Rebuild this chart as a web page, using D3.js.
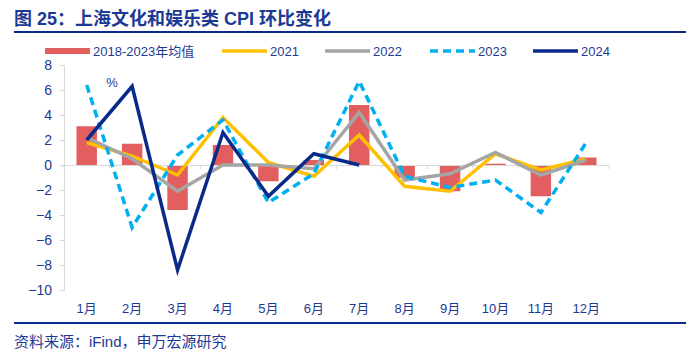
<!DOCTYPE html>
<html lang="zh">
<head>
<meta charset="UTF-8">
<title>上海文化和娱乐类 CPI 环比变化</title>
<script src="https://d3js.org/d3.v7.min.js"></script>
<style>
  body { margin: 0; background: #fff; }
  text { font-family: "Liberation Sans", Arial, "Noto Sans CJK SC", sans-serif; }
</style>
</head>
<body>
<svg id="chart"></svg>
<script>
const months = ["1月","2月","3月","4月","5月","6月","7月","8月","9月","10月","11月","12月"];
const avg1823 = [3.1, 1.7, -3.6, 1.6, -1.3, 0.4, 4.8, -1.0, -2.1, 0.1, -2.5, 0.6];
const s2021 = [1.8, 0.7, -0.8, 3.8, 0.2, -0.9, 2.4, -1.7, -2.1, 0.9, -0.4, 0.5];
const s2022 = [2.2, 0.5, -2.1, 0.0, 0.0, -0.3, 4.2, -1.2, -0.7, 1.0, -0.8, 0.4];
const s2023 = [6.4, -5.0, 0.8, 3.6, -3.0, -0.7, 6.7, -0.9, -1.8, -1.2, -3.8, 1.8];
const s2024 = [2.0, 6.3, -8.4, 2.6, -2.5, 0.9, 0.0];
const yTicks = [8, 6, 4, 2, 0, -2, -4, -6, -8, -10];

const W = 700, H = 352;
const navy = "#1c3a94";
const svg = d3.select("#chart").attr("width", W).attr("height", H);

// title
svg.append("text").attr("x", 14).attr("y", 25)
  .attr("font-family", "'Noto Sans CJK SC', sans-serif")
  .attr("font-size", 18).attr("font-weight", "bold").attr("fill", navy)
  .text("图 25：上海文化和娱乐类 CPI 环比变化");
svg.append("line").attr("x1", 14).attr("x2", 686).attr("y1", 32).attr("y2", 32)
  .attr("stroke", "#0a2a8a").attr("stroke-width", 2);

// footer
svg.append("line").attr("x1", 14).attr("x2", 686).attr("y1", 323).attr("y2", 323)
  .attr("stroke", "#0a2a8a").attr("stroke-width", 2);
svg.append("text").attr("x", 14).attr("y", 347)
  .attr("font-family", "'Noto Sans CJK SC', sans-serif")
  .attr("font-size", 15).attr("fill", navy)
  .text("资料来源：iFind，申万宏源研究");

const x = d3.scaleBand().domain(months).range([64, 609]);
const y = d3.scaleLinear().domain([-10, 8]).range([290, 65]);

// y axis
const yAxis = svg.append("g").attr("transform", "translate(64,0)")
  .call(d3.axisLeft(y).tickValues(yTicks).tickSize(4).tickPadding(8));
yAxis.select(".domain").attr("stroke", "#d9d9d9");
yAxis.selectAll(".tick line").attr("stroke", "#d9d9d9");
yAxis.selectAll(".tick text").attr("fill", navy).attr("font-size", 14);

// bars
const bw = x.bandwidth() * 0.45;
svg.append("g").selectAll("rect").data(avg1823).join("rect")
  .attr("x", (d, i) => x(months[i]) + (x.bandwidth() - bw) / 2)
  .attr("y", d => y(Math.max(0, d)))
  .attr("width", bw)
  .attr("height", d => Math.abs(y(d) - y(0)))
  .attr("fill", "#e35e5e");

// zero axis with category ticks
const xAxis = svg.append("g").attr("transform", `translate(0,${y(0)})`)
  .call(d3.axisBottom(x).tickSize(0).tickFormat(""));
xAxis.select(".domain").attr("stroke", "#d9d9d9");
svg.append("g").selectAll("line").data(d3.range(13)).join("line")
  .attr("x1", i => 64 + i * x.step()).attr("x2", i => 64 + i * x.step())
  .attr("y1", y(0)).attr("y2", y(0) + 4)
  .attr("stroke", "#d9d9d9");

// month labels
svg.append("g").selectAll("text").data(months).join("text")
  .attr("x", d => x(d) + x.bandwidth() / 2).attr("y", 313)
  .attr("text-anchor", "middle").attr("font-size", 13).attr("fill", navy)
  .attr("font-family", "'Noto Sans CJK SC', sans-serif")
  .text(d => d);

const line = d3.line().x((d, i) => x(months[i]) + x.bandwidth() / 2).y(d => y(d));
const series = [
  { data: s2021, color: "#ffc000", dash: null },
  { data: s2022, color: "#a5a5a5", dash: null },
  { data: s2023, color: "#00b0f0", dash: "8,5" },
  { data: s2024, color: "#0a2a8a", dash: null }
];
series.forEach(s => {
  svg.append("path").datum(s.data)
    .attr("d", line).attr("fill", "none")
    .attr("stroke", s.color).attr("stroke-width", 3.5)
    .attr("stroke-dasharray", s.dash);
});

svg.append("text").attr("x", 112).attr("y", 87).attr("text-anchor", "middle")
  .attr("font-size", 13).attr("fill", navy).text("%");

// legend
const legend = [
  { label: "2018-2023年均值", x: 45, color: "#e35e5e", w: 6, dash: null },
  { label: "2021", x: 222, color: "#ffc000", w: 3.5, dash: null },
  { label: "2022", x: 325, color: "#a5a5a5", w: 3.5, dash: null },
  { label: "2023", x: 430, color: "#00b0f0", w: 3.5, dash: "8,5" },
  { label: "2024", x: 533, color: "#0a2a8a", w: 3.5, dash: null }
];
const lg = svg.append("g").selectAll("g").data(legend).join("g");
lg.append("line")
  .attr("x1", d => d.x).attr("x2", d => d.x + 45)
  .attr("y1", 51).attr("y2", 51)
  .attr("stroke", d => d.color).attr("stroke-width", d => d.w)
  .attr("stroke-dasharray", d => d.dash);
lg.append("text")
  .attr("x", d => d.x + 48).attr("y", 56)
  .attr("font-size", 13).attr("fill", navy)
  .attr("font-family", "'Noto Sans CJK SC', sans-serif")
  .text(d => d.label);
</script>
</body>
</html>
